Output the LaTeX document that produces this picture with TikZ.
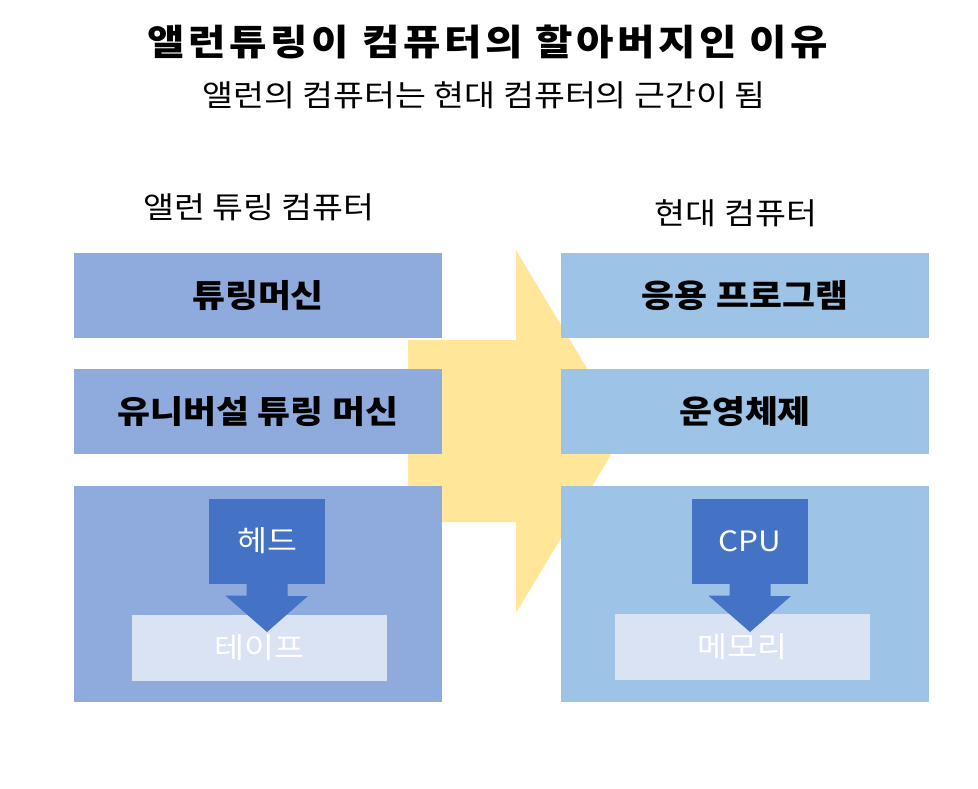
\documentclass[tikz,border=0pt]{standalone}
\usepackage{fontspec}
\newfontfamily\kr{Noto Sans CJK KR}[FakeStretch=1.12]
\newfontfamily\krt{Noto Sans CJK KR}[FakeStretch=1.13,LetterSpace=10]
\definecolor{leftc}{HTML}{8FAADC}
\definecolor{rightc}{HTML}{9DC3E6}
\definecolor{darkc}{HTML}{4472C4}
\definecolor{lightc}{HTML}{DAE3F3}
\definecolor{yellowc}{HTML}{FFE699}
\tikzset{
  box/.style={draw=none, inner sep=0pt, minimum width=368pt},
  lbox/.style={box, fill=leftc},
  rbox/.style={box, fill=rightc},
  boldlbl/.style={font=\kr\bfseries\fontsize{32}{36}\selectfont, text=black},
  plainlbl/.style={font=\kr\fontsize{30}{34}\selectfont, inner sep=0pt},
  headbox/.style={fill=darkc, inner sep=0pt, minimum width=116pt, minimum height=85pt, font=\kr\fontsize{29}{32}\selectfont, text=white},
  tapebox/.style={fill=lightc, inner sep=0pt, minimum width=255pt, minimum height=66pt},
  tapetxt/.style={font=\kr\fontsize{29}{32}\selectfont, text=white, inner sep=0pt},
  blockarrow/.style={fill=darkc, draw=none},
}
\begin{document}
\begin{tikzpicture}[x=1pt,y=-1pt]
\useasboundingbox (0,0) rectangle (978,789);
% big yellow arrow
\fill[yellowc] (408,340) -- (516,340) -- (516,250) -- (625,431.5) -- (516,613) -- (516,522) -- (408,522) -- cycle;
% titles
\node[font=\krt\bfseries\fontsize{36}{40}\selectfont, inner sep=0pt] (title) at (488,42) {앨런튜링이 컴퓨터의 할아버지인 이유};
\node[plainlbl] (sub) at (484,95) {앨런의 컴퓨터는 현대 컴퓨터의 근간이 됨};
\node[plainlbl] (lhead) at (259,207) {앨런 튜링 컴퓨터};
\node[plainlbl] (rhead) at (736,213) {현대 컴퓨터};
% left column
\node[lbox, minimum height=85pt] (l1) at (258,295.5) {};
\node[boldlbl] at (l1.center) {튜링머신};
\node[lbox, minimum height=85pt] (l2) at (258,411.5) {};
\node[boldlbl] at (l2.center) {유니버설 튜링 머신};
\node[lbox, minimum height=216pt] (l3) at (258,594) {};
\node[tapebox] (tape) at (259.5,648) {};
\node[headbox] (head) at (267,541) {헤드};
\fill[blockarrow] ([xshift=-20.5pt]head.south) -- ++(0,12) -- ++(-21,0) -- (267,632) -- (308,596) -- ++(-20.5,0) -- ([xshift=20.5pt]head.south) -- cycle;
\node[tapetxt] (tapet) at (259.5,648) {테이프};
% right column
\node[rbox, minimum height=85pt] (r1) at (745,295.5) {};
\node[boldlbl] at (r1.center) {응용 프로그램};
\node[rbox, minimum height=85pt] (r2) at (745,411.5) {};
\node[boldlbl] at (r2.center) {운영체제};
\node[rbox, minimum height=216pt] (r3) at (745,594) {};
\node[tapebox] (mem) at (742.5,647) {};
\node[headbox, font=\kr\fontsize{28}{32}\selectfont] (cpu) at (750,541) {CPU};
\fill[blockarrow] ([xshift=-20.5pt]cpu.south) -- ++(0,12) -- ++(-21,0) -- (750,632) -- (791,596) -- ++(-20.5,0) -- ([xshift=20.5pt]cpu.south) -- cycle;
\node[tapetxt] (memt) at (742.5,647) {메모리};
\end{tikzpicture}
\end{document}
